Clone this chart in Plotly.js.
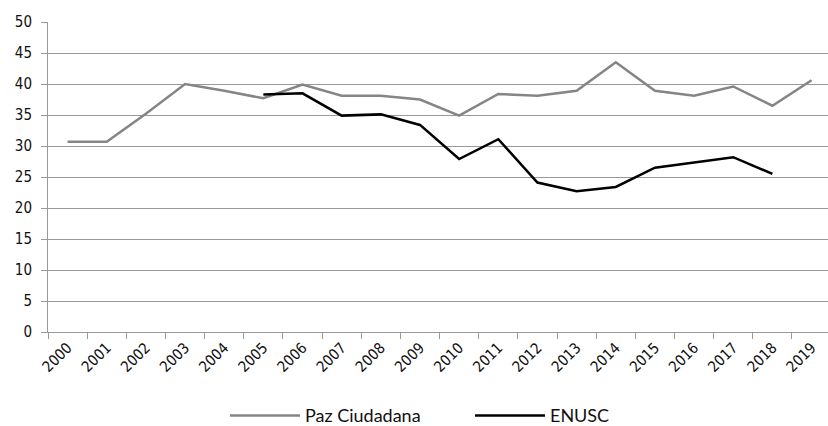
<!DOCTYPE html>
<html>
<head>
<meta charset="utf-8">
<script src="https://cdn.plot.ly/plotly-3.0.1.min.js"></script>
<style>html,body{margin:0;padding:0;background:#fff;}#chart{width:828px;height:426px;}</style>
</head>
<body>
<div id="chart"></div>
<script>
const years = ["2000","2001","2002","2003","2004","2005","2006","2007","2008","2009","2010","2011","2012","2013","2014","2015","2016","2017","2018","2019"];
const pazCiudadana = [30.7,30.7,35.2,40.0,38.9,37.7,39.9,38.1,38.1,37.5,34.9,38.4,38.1,38.9,43.5,38.9,38.1,39.6,36.5,40.6];
const enusc = [null,null,null,null,null,38.3,38.5,34.9,35.1,33.4,27.9,31.1,24.1,22.7,23.4,26.5,27.4,28.2,25.5,null];
const yTicks = [0,5,10,15,20,25,30,35,40,45,50];

const tickFont = {family: "DejaVu Sans Condensed, DejaVu Sans, sans-serif", size: 15, color: "#111"};

const data = [
  {x: years, y: pazCiudadana, type: "scatter", mode: "lines", name: "Paz Ciudadana",
   line: {color: "#858585", width: 2.5}, connectgaps: false},
  {x: years, y: enusc, type: "scatter", mode: "lines", name: "ENUSC",
   line: {color: "#000000", width: 2.5}, connectgaps: false}
];

const layout = {
  width: 828, height: 426,
  margin: {l: 48, r: 0, t: 22, b: 94, autoexpand: false},
  paper_bgcolor: "#fff", plot_bgcolor: "#fff",
  showlegend: true,
  xaxis: {
    type: "category", categoryorder: "array", categoryarray: years,
    range: [-0.5, 19.42], tickson: "boundaries",
    ticks: "outside", ticklen: 6, tickcolor: "#999", tickwidth: 1,
    showline: true, linecolor: "#999", linewidth: 1,
    showgrid: false, zeroline: false,
    tickangle: -45, tickfont: tickFont, ticklabelshift: 0
  },
  yaxis: {
    range: [0, 50], tickvals: yTicks, ticktext: yTicks.map(String),
    ticks: "outside", ticklen: 6, tickcolor: "#999", tickwidth: 1,
    showline: true, linecolor: "#999", linewidth: 1,
    showgrid: true, gridcolor: "#999", gridwidth: 1,
    zeroline: false, tickfont: tickFont, ticklabelstandoff: 6
  },
  legend: {
    orientation: "h", x: 0.541, xanchor: "center", y: -0.27, yanchor: "middle",
    font: {family: "Lato", size: 18, color: "#111"},
    itemwidth: 70, entrywidth: 160, entrywidthmode: "pixels"
  }
};

Plotly.newPlot("chart", data, layout, {displayModeBar: false, staticPlot: true});
</script>
</body>
</html>
